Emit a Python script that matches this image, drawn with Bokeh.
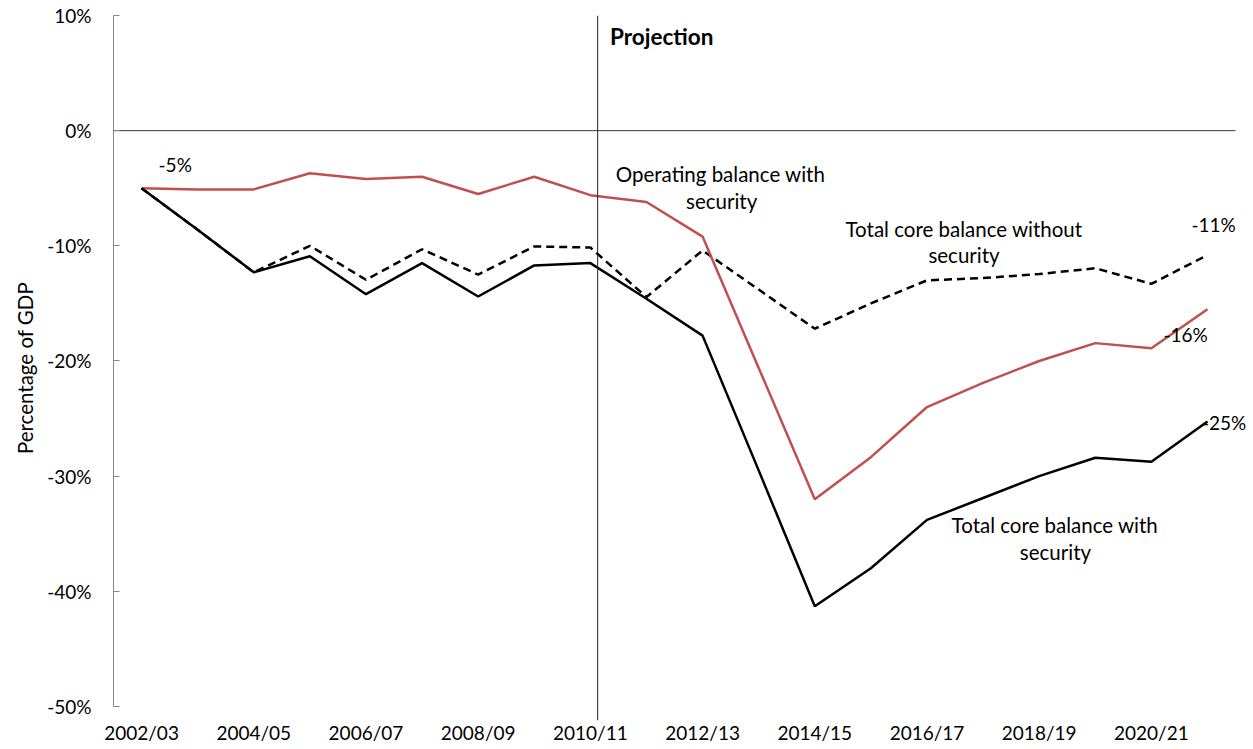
from bokeh.plotting import figure
from bokeh.models import Range1d, FixedTicker, PrintfTickFormatter, Span, Label
from bokeh.embed import file_html
from bokeh.resources import INLINE

# ---------------- data ----------------
years = ["2002/03", "2003/04", "2004/05", "2005/06", "2006/07", "2007/08",
         "2008/09", "2009/10", "2010/11", "2011/12", "2012/13", "2013/14",
         "2014/15", "2015/16", "2016/17", "2017/18", "2018/19", "2019/20",
         "2020/21", "2021/22"]

core_with_security = [-5.0, -8.6, -12.3, -10.9, -14.2, -11.5, -14.4, -11.7,
                      -11.5, -14.6, -17.8, -29.5, -41.3, -38.0, -33.8, -31.9,
                      -30.0, -28.4, -28.75, -25.25]

operating_with_security = [-5.0, -5.1, -5.1, -3.7, -4.2, -4.0, -5.5, -4.0,
                           -5.6, -6.2, -9.2, -20.6, -32.0, -28.35, -24.0,
                           -21.9, -20.0, -18.45, -18.9, -15.5]

core_without_security = [-5.0, -8.6, -12.3, -10.0, -12.95, -10.3, -12.5,
                         -10.05, -10.15, -14.45, -10.4, -13.8, -17.2, -15.0,
                         -13.0, -12.8, -12.45, -11.95, -13.3, -10.8]

y_ticks = [-50, -40, -30, -20, -10, 0, 10]
x_tick_every = 2
projection_start = 8.13   # boundary of the projection period (category units)

# ---------------- styling ----------------
FONT = "Lato"
FS_TICK = "19px"
FS_NUM = "19px"
FS_TXT = "20.5px"
RED = "#C0504D"
W, H = 1253, 749

x = list(range(len(years)))
x_lo, x_hi = -0.5, len(years) - 0.5

p = figure(width=W, height=H, output_backend="svg", toolbar_location=None,
           x_range=Range1d(x_lo, 19.82),
           y_range=Range1d(-51.22, 10.0),
           min_border_left=113, min_border_right=0,
           min_border_top=15, min_border_bottom=29)

p.outline_line_color = None
p.xgrid.visible = False
p.ygrid.visible = False
p.background_fill_color = "white"
p.border_fill_color = "white"

# y axis
p.yaxis.ticker = FixedTicker(ticks=y_ticks)
p.yaxis.formatter = PrintfTickFormatter(format="%d%%")
p.yaxis.bounds = (min(y_ticks), max(y_ticks))
p.yaxis.axis_line_color = "#868686"
p.yaxis.major_tick_line_color = "#868686"
p.yaxis.major_tick_in = 6
p.yaxis.major_tick_out = 0
p.yaxis.minor_tick_line_color = None
p.yaxis.major_label_standoff = 22
p.yaxis.major_label_text_font = FONT
p.yaxis.major_label_text_font_size = FS_TICK
p.yaxis.major_label_text_color = "black"
p.yaxis.axis_label = "Percentage of GDP"
p.yaxis.axis_label_text_font = FONT
p.yaxis.axis_label_text_font_size = FS_TXT
p.yaxis.axis_label_text_font_style = "normal"
p.yaxis.axis_label_text_color = "black"
p.yaxis.axis_label_standoff = 7

# x axis
tick_pos = x[::x_tick_every]
p.xaxis.ticker = FixedTicker(ticks=tick_pos)
p.xaxis.major_label_overrides = {i: years[i] for i in tick_pos}
p.xaxis.axis_line_color = None
p.xaxis.major_tick_line_color = None
p.xaxis.minor_tick_line_color = None
p.xaxis.major_tick_in = 0
p.xaxis.major_tick_out = 0
p.xaxis.major_label_standoff = 0
p.xaxis.major_label_text_font = FONT
p.xaxis.major_label_text_font_size = FS_TICK
p.xaxis.major_label_text_color = "black"

# zero line (category axis) and projection line
p.segment(x0=[x_lo], y0=[0], x1=[x_hi], y1=[0], line_color="#3a3a3a", line_width=1)
p.add_layout(Span(location=projection_start, dimension="height",
                  line_color="#222222", line_width=1))

# series
p.line(x, core_without_security, line_color="black", line_width=2.5,
       line_dash="8 5")
p.line(x, operating_with_security, line_color=RED, line_width=2.5)
p.line(x, core_with_security, line_color="black", line_width=2.5)


def lab(text, xx, yy, align="center", size=FS_TXT, bold=False):
    p.add_layout(Label(x=xx, y=yy, text=text, text_font=FONT, text_font_size=size,
                       text_align=align, text_baseline="middle",
                       text_color="black",
                       text_font_style="bold" if bold else "normal"))


lab("Projection", 8.35, 8.2, align="left", size="22.5px", bold=True)
lab("-5%", 0.6, -2.94, size=FS_NUM)
lab("Operating balance with", 10.32, -3.75)
lab("security", 10.34, -6.15)
lab("Total core balance without", 14.66, -8.52)
lab("security", 14.66, -10.84)
lab("-11%", 19.11, -8.15, size=FS_NUM)
lab("-16%", 18.61, -17.72, size=FS_NUM)
lab("-25%", 19.69, -25.37, align="right", size=FS_NUM)
lab("Total core balance with", 16.28, -34.22)
lab("security", 16.29, -36.63)

open("out.html", "w").write(file_html(p, INLINE))
